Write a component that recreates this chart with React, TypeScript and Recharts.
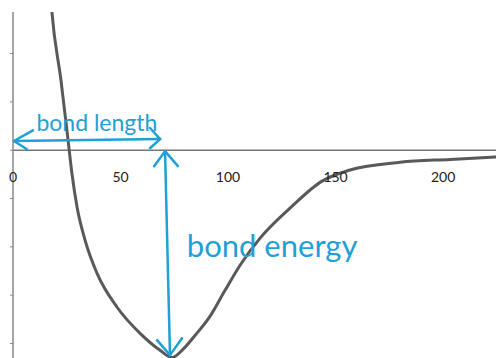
import {
  Line,
  LineChart,
  ReferenceDot,
  ReferenceLine,
  XAxis,
  YAxis,
} from "recharts";

// distance vs potential energy
const distance = [
  17.0, 18.1, 22.3, 25.6, 27.4, 29.8, 33.5, 39.1, 48.4, 59.1, 68.4, 74.0, 78.6,
  84.7, 91.6, 98.6, 105.6, 114.9, 128.8, 143.7, 156.7, 180.0, 203.3, 224.7,
];
const energy = [
  3.52, 2.86, 1.45, 0.21, -0.48, -1.18, -1.86, -2.55, -3.25, -3.79, -4.14,
  -4.29, -4.14, -3.83, -3.44, -2.9, -2.38, -1.82, -1.2, -0.64, -0.41, -0.25,
  -0.19, -0.14,
];
const xTickLabels = [0, 50, 100, 150, 200];
const yTicks = [-4, -3, -2, -1, 0, 1, 2];

const data = distance.map((d, i) => ({ d, e: energy[i] }));

const BLUE = "#1fa0d6";
const GREY = "#595959";

// hand-drawn annotation strokes, in data units
const arrowStrokes: [number, number, number, number][] = [
  // bond length double arrow
  [0.4, 0.19, 68.4, 0.23],
  [0.4, 0.19, 9.3, 0.41],
  [0.4, 0.19, 6.5, 0.02],
  [68.4, 0.23, 63.7, 0.46],
  [68.4, 0.23, 63.7, 0.04],
  // bond energy double arrow
  [70.7, -0.02, 73.0, -4.24],
  [70.7, -0.02, 65.6, -0.33],
  [70.7, -0.02, 76.7, -0.33],
  [73.0, -4.24, 67.0, -3.93],
  [73.0, -4.24, 78.6, -3.89],
];

const handText = (value: string, size: number) => (props: any) => {
  const { viewBox } = props;
  const cx = viewBox.x + viewBox.width / 2;
  const cy = viewBox.y + viewBox.height / 2;
  return (
    <text
      x={cx}
      y={cy}
      textAnchor="middle"
      dominantBaseline="central"
      fill={BLUE}
      fontFamily="Lato, sans-serif"
      fontSize={size}
    >
      {value}
    </text>
  );
};

export default function App() {
  return (
    <div style={{ position: "absolute", left: 0, top: 0, background: "#fff" }}>
      <LineChart
        width={496}
        height={358}
        data={data}
        margin={{ top: 12, right: 0, left: 0, bottom: 0 }}
      >
        <XAxis
          dataKey="d"
          type="number"
          domain={[0, 224.6]}
          allowDataOverflow
          hide
        />
        <YAxis
          type="number"
          domain={[-4.3, 2.86]}
          allowDataOverflow
          ticks={yTicks}
          width={13}
          tick={() => <g />}
          tickSize={3}
          tickLine={{ stroke: "#888" }}
          axisLine={{ stroke: "#888", strokeWidth: 1.5 }}
        />
        <ReferenceLine y={0} stroke="#777" strokeWidth={1.5} />
        {xTickLabels.map((t) => (
          <ReferenceDot
            key={t}
            x={t}
            y={-0.56}
            r={0}
            stroke="none"
            fill="none"
            label={{
              value: String(t),
              position: "center",
              fill: "#222",
              fontSize: 14,
              fontFamily: "Lato, sans-serif",
            }}
          />
        ))}
        <Line
          type="monotone"
          dataKey="e"
          stroke={GREY}
          strokeWidth={3}
          dot={false}
          isAnimationActive={false}
        />
        {arrowStrokes.map(([x1, y1, x2, y2], i) => (
          <ReferenceLine
            key={i}
            segment={[
              { x: x1, y: y1 },
              { x: x2, y: y2 },
            ]}
            stroke={BLUE}
            strokeWidth={2.5}
            strokeLinecap="round"
            ifOverflow="visible"
          />
        ))}
        <ReferenceDot
          x={39}
          y={0.58}
          r={0}
          stroke="none"
          fill="none"
          label={handText("bond length", 23)}
        />
        <ReferenceDot
          x={120.5}
          y={-1.97}
          r={0}
          stroke="none"
          fill="none"
          label={handText("bond energy", 31)}
        />
      </LineChart>
    </div>
  );
}
